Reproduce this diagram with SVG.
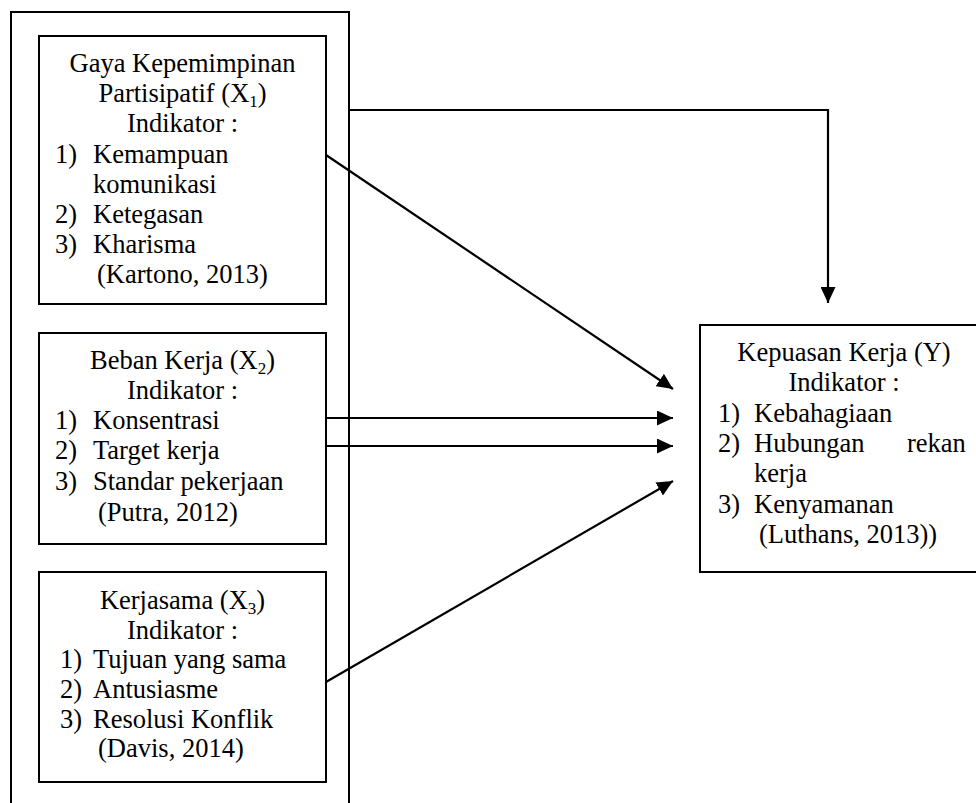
<svg xmlns="http://www.w3.org/2000/svg" width="976" height="803" viewBox="0 0 976 803">
<style>
.box{fill:#fff;stroke:#000;stroke-width:2}
.frame{fill:none;stroke:#000;stroke-width:2}
.con{fill:none;stroke:#000;stroke-width:2.2}
text{font-family:"Liberation Serif","Times New Roman",serif;font-size:26.5px;fill:#000}
.c{text-anchor:middle}
.sub{font-size:17px}
</style>
<defs>
<marker id="ah" markerUnits="userSpaceOnUse" markerWidth="17" markerHeight="15" refX="16" refY="7.5" orient="auto">
<path d="M0,0 L16,7.5 L0,15 z" fill="#000"/>
</marker>
</defs>
<rect width="976" height="803" fill="#fff"/>
<g id="frame"><path class="frame" d="M11,810 V12 H349 V810"/></g>
<g id="x1">
<rect class="box" x="39" y="36" width="287" height="268"/>
<text class="c" x="182.5" y="72">Gaya Kepemimpinan</text>
<text class="c" x="182.5" y="102">Partisipatif (X<tspan class="sub" dy="5">1</tspan><tspan dy="-5">)</tspan></text>
<text class="c" x="182.5" y="132">Indikator :</text>
<text x="55" y="163">1)</text><text x="93" y="163">Kemampuan</text>
<text x="93" y="193">komunikasi</text>
<text x="55" y="223">2)</text><text x="93" y="223">Ketegasan</text>
<text x="55" y="253">3)</text><text x="93" y="253">Kharisma</text>
<text x="97" y="283">(Kartono, 2013)</text>
</g>
<g id="x2">
<rect class="box" x="39" y="333" width="287" height="211"/>
<text class="c" x="182.5" y="369">Beban Kerja (X<tspan class="sub" dy="5">2</tspan><tspan dy="-5">)</tspan></text>
<text class="c" x="182.5" y="399">Indikator :</text>
<text x="55" y="429">1)</text><text x="93" y="429">Konsentrasi</text>
<text x="55" y="459">2)</text><text x="93" y="459">Target kerja</text>
<text x="55" y="490">3)</text><text x="93" y="490">Standar pekerjaan</text>
<text x="98" y="521">(Putra, 2012)</text>
</g>
<g id="x3">
<rect class="box" x="39" y="572" width="287" height="210"/>
<text class="c" x="182.5" y="609">Kerjasama (X<tspan class="sub" dy="5">3</tspan><tspan dy="-5">)</tspan></text>
<text class="c" x="182.5" y="639">Indikator :</text>
<text x="60" y="668">1)</text><text x="93" y="668">Tujuan yang sama</text>
<text x="60" y="698">2)</text><text x="93" y="698">Antusiasme</text>
<text x="60" y="728">3)</text><text x="93" y="728">Resolusi Konflik</text>
<text x="98" y="757">(Davis, 2014)</text>
</g>
<g id="y">
<rect class="box" x="700" y="325" width="290" height="247"/>
<text class="c" x="844" y="361">Kepuasan Kerja (Y)</text>
<text class="c" x="844" y="391">Indikator :</text>
<text x="718" y="422">1)</text><text x="754" y="422">Kebahagiaan</text>
<text x="718" y="452">2)</text><text x="754" y="452">Hubungan</text><text x="907" y="452">rekan</text>
<text x="754" y="482">kerja</text>
<text x="718" y="513">3)</text><text x="754" y="513">Kenyamanan</text>
<text x="759" y="543">(Luthans, 2013))</text>
</g>
<g id="connectors">
<path class="con" d="M349,110 H828 V303" marker-end="url(#ah)"/>
<path class="con" d="M326,155 L673,389" marker-end="url(#ah)"/>
<path class="con" d="M326,418 H673" marker-end="url(#ah)"/>
<path class="con" d="M326,446 H673" marker-end="url(#ah)"/>
<path class="con" d="M326,682 L673,481" marker-end="url(#ah)"/>
</g>
</svg>
